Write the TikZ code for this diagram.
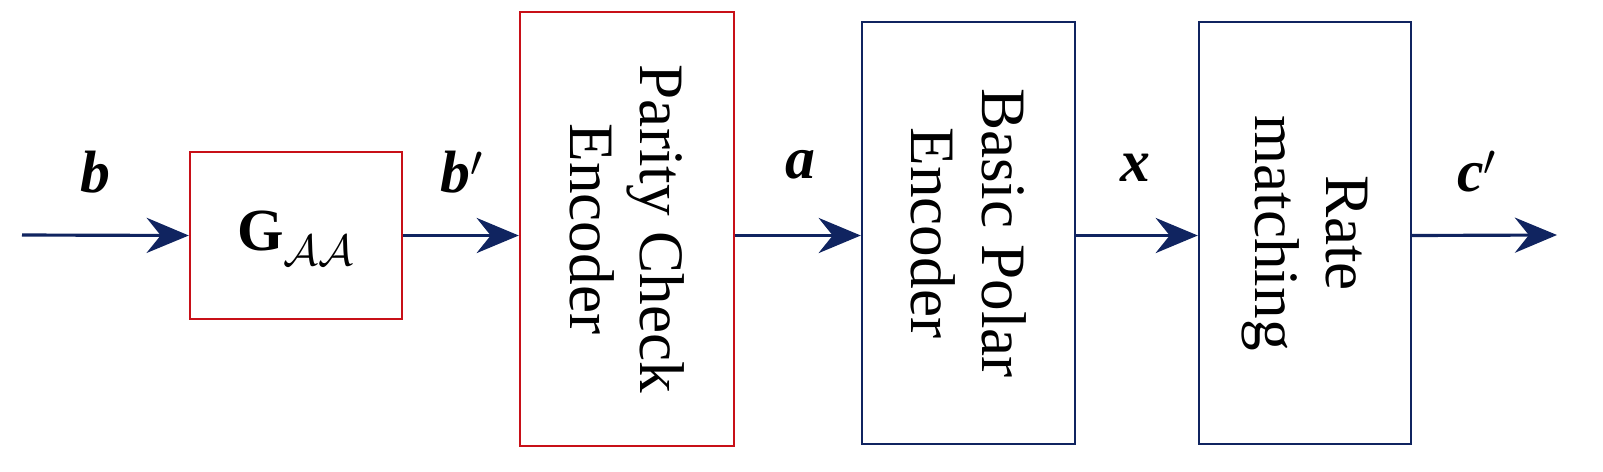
\documentclass[tikz,border=0pt]{standalone}
\usepackage{fontspec}
\setmainfont{Liberation Serif}
\usetikzlibrary{arrows.meta}
\definecolor{navy}{RGB}{16,36,96}
\definecolor{dred}{RGB}{200,16,24}
\begin{document}
\begin{tikzpicture}[x=0.02cm,y=-0.02cm,
  arr/.style={navy,line width=1.8pt,-{Stealth[length=24pt,width=20pt,inset=8pt]}},
  lbl/.style={font=\fontsize{34}{34}\selectfont\bfseries\itshape},
  vt/.style={rotate=-90,align=center,font=\fontsize{36}{40}\selectfont}]
\useasboundingbox (0,0) rectangle (1603,471);
\node[draw=dred,line width=1.4pt,minimum width=4.24cm,minimum height=3.34cm] (g) at (296,235.5) {};
\node[font=\fontsize{34}{34}\selectfont] at (296,238) {\textbf{G}$_{\mathcal{AA}}$};
\node[draw=dred,line width=1.4pt,minimum width=4.28cm,minimum height=8.68cm] (p) at (627,229) {};
\node[vt] at (627,229) {Parity Check\\Encoder};
\node[draw=navy,line width=1.4pt,minimum width=4.26cm,minimum height=8.44cm] (bp) at (968.5,233) {};
\node[vt] at (968.5,233) {Basic Polar\\Encoder};
\node[draw=navy,line width=1.4pt,minimum width=4.24cm,minimum height=8.44cm] (r) at (1305,233) {};
\node[vt] at (1305,233) {Rate\\matching};
\coordinate (s) at (22,235);
\coordinate (e) at (1557,235);
\draw[arr] (s) -- (g.west);
\draw[arr] (g.east) -- (p.west|-g.east);
\draw[arr] (p.east|-g.east) -- (bp.west|-g.east);
\draw[arr] (bp.east|-g.east) -- (r.west|-g.east);
\draw[arr] (r.east|-g.east) -- (e);
\node[lbl] at (95,172) {b};
\node[lbl] at (462,172) {b$'$};
\node[lbl] at (800,165) {a};
\node[lbl] at (1135,168) {x};
\node[lbl] at (1477,172) {c$'$};
\end{tikzpicture}
\end{document}
